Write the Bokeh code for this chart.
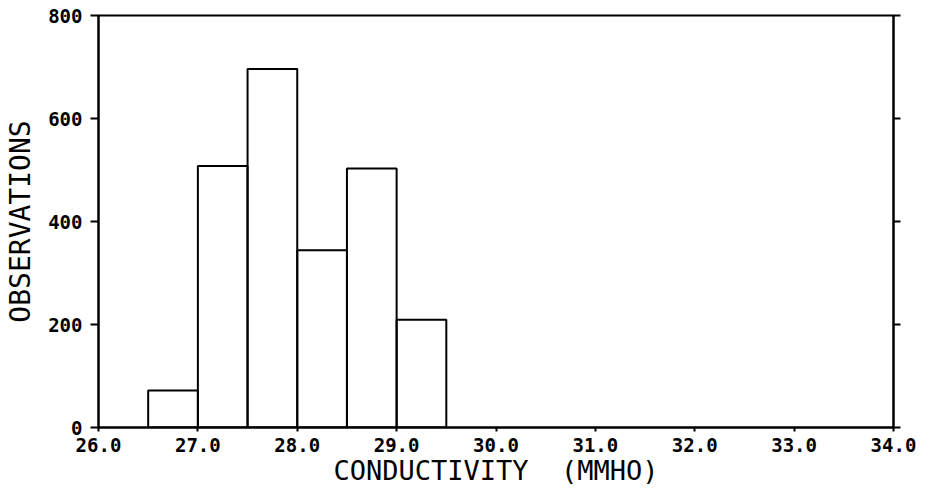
from bokeh.plotting import figure
from bokeh.models import Range1d, LinearAxis, FixedTicker
from bokeh.embed import file_html
from bokeh.resources import INLINE

# Data
bin_left = [26.5, 27.0, 27.5, 28.0, 28.5, 29.0]
bin_right = [27.0, 27.5, 28.0, 28.5, 29.0, 29.5]
counts = [72, 508, 696, 344, 503, 209]
x_ticks = [26, 27, 28, 29, 30, 31, 32, 33, 34]
x_tick_labels = ["26.0", "27.0", "28.0", "29.0", "30.0", "31.0", "32.0", "33.0", "34.0"]
y_ticks = [0, 200, 400, 600, 800]

p = figure(width=916, height=488, output_backend="svg", toolbar_location=None,
           x_range=Range1d(26, 34), y_range=Range1d(0, 800),
           min_border_left=98, min_border_right=23, min_border_top=15, min_border_bottom=56)
p.xgrid.visible = False
p.ygrid.visible = False
p.outline_line_color = "black"
p.outline_line_width = 2
p.background_fill_color = "white"
p.border_fill_color = "white"

p.quad(left=bin_left, right=bin_right, top=counts, bottom=0,
       fill_color=None, line_color="black", line_width=2)

mono = "DejaVu Sans Mono"

xa = p.xaxis[0]
xa.ticker = FixedTicker(ticks=x_ticks)
xa.major_label_overrides = {t: l for t, l in zip(x_ticks, x_tick_labels)}
xa.minor_tick_line_color = None
xa.major_tick_in = 0
xa.major_tick_out = 4
xa.major_tick_line_width = 2
xa.axis_line_width = 2
xa.major_label_standoff = 6
xa.major_label_text_font = mono
xa.major_label_text_font_style = "bold"
xa.major_label_text_font_size = "19px"
xa.major_label_text_color = "black"
xa.axis_label = "CONDUCTIVITY\u00a0\u00a0(MMHO)"
xa.axis_label_text_font = mono
xa.axis_label_text_font_style = "normal"
xa.axis_label_text_font_size = "27px"
xa.axis_label_text_color = "black"
xa.axis_label_standoff = 0

ya = p.yaxis[0]
ya.ticker = FixedTicker(ticks=y_ticks)
ya.minor_tick_line_color = None
ya.major_tick_in = 0
ya.major_tick_out = 8
ya.major_tick_line_width = 2
ya.axis_line_width = 2
ya.major_label_standoff = 8
ya.major_label_text_font = mono
ya.major_label_text_font_style = "bold"
ya.major_label_text_font_size = "19px"
ya.major_label_text_color = "black"
ya.axis_label = "OBSERVATIONS"
ya.axis_label_text_font = mono
ya.axis_label_text_font_style = "normal"
ya.axis_label_text_font_size = "28px"
ya.axis_label_text_color = "black"
ya.axis_label_standoff = 8

ra = LinearAxis(ticker=FixedTicker(ticks=y_ticks))
ra.minor_tick_line_color = None
ra.major_tick_in = 0
ra.major_tick_out = 7
ra.major_tick_line_width = 2
ra.axis_line_width = 2
ra.major_label_overrides = {t: "" for t in y_ticks}
ra.major_label_standoff = 0
p.add_layout(ra, "right")

open("out.html", "w").write(file_html(p, INLINE))
